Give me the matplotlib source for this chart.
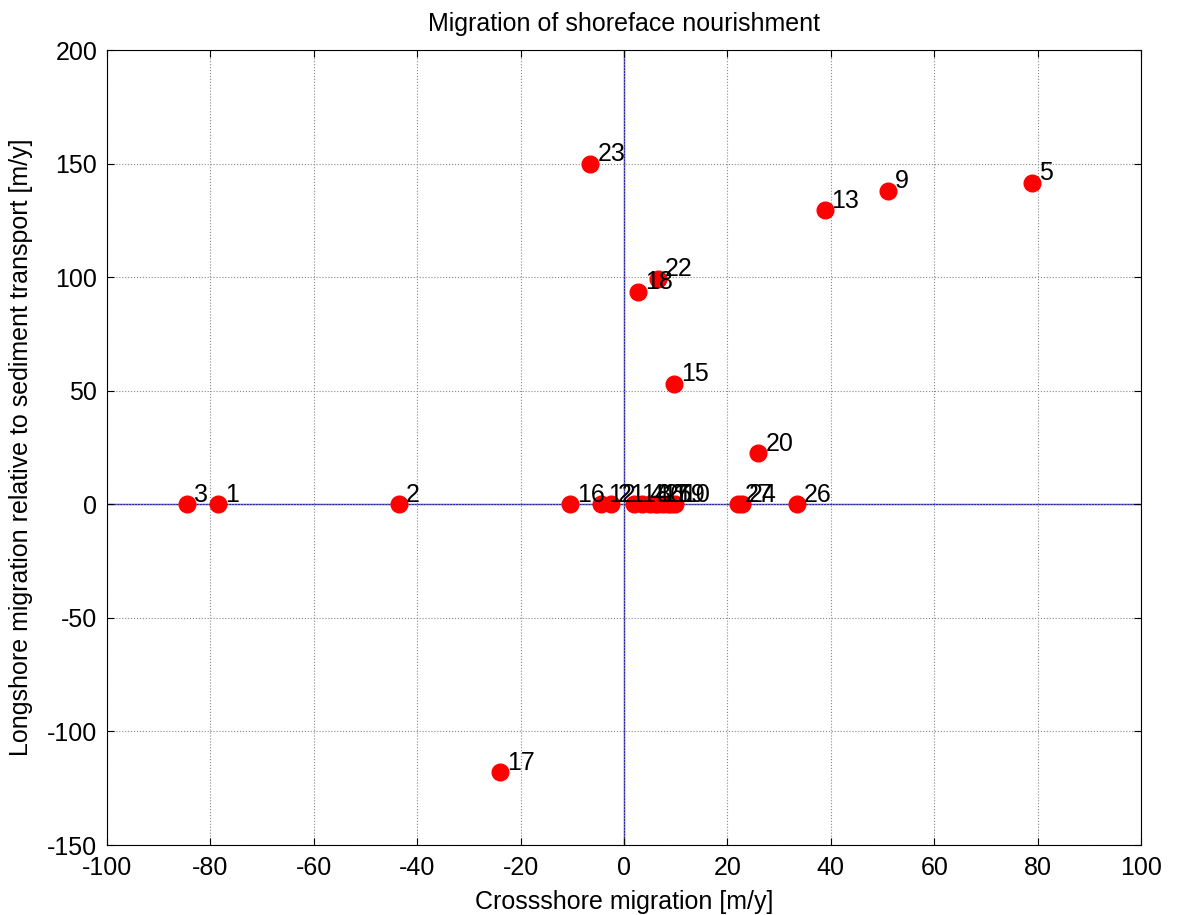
import matplotlib.pyplot as plt

plt.rcParams['font.family'] = ['Liberation Sans', 'DejaVu Sans']
plt.rcParams['axes.unicode_minus'] = False

# project number, crossshore [m/y], longshore [m/y]
ids = [1, 2, 3, 4, 5, 6, 7, 8, 9, 10, 11, 12, 13, 14,
       15, 16, 17, 18, 19, 20, 21, 22, 23, 24, 25, 26, 27]
cross = [-78.5, -43.5, -84.5, 3.5, 79.0, 7.5, 8.5, 5.0, 51.0, 9.8, 6.0, -4.5, 38.8, 2.0,
         9.7, -10.5, -24.0, 2.7, 9.0, 26.0, -2.5, 6.5, -6.5, 22.8, 6.5, 33.5, 22.0]
longs = [0, 0, 0, 0, 141.5, 0, 0, 0, 138.0, 0, 0, 0, 129.5, 0,
         53.0, 0, -118.0, 93.5, 0, 22.5, 0, 99.5, 150.0, 0, 0, 0, 0]

fs = 18

fig = plt.figure(figsize=(11.8, 9.15), dpi=100)
ax = fig.add_axes([0.0907, 0.0765, 0.8763, 0.8685])

ax.axhline(0, color='#2020c0', lw=1, zorder=1)
ax.axvline(0, color='#2020c0', lw=1, zorder=1)
ax.plot(cross, longs, 'o', color='red', markersize=12, zorder=3)
for i, x, y in zip(ids, cross, longs):
    ax.annotate(str(i), (x, y), xytext=(5, 7), textcoords='offset points',
                fontsize=fs, va='center', ha='left', zorder=4)

ax.set_xlim(-100, 100)
ax.set_ylim(-150, 200)
ax.set_xticks(range(-100, 101, 20))
ax.set_yticks(range(-150, 201, 50))
ax.grid(True, color='#888888', linestyle=':', lw=0.8)
ax.tick_params(direction='in', top=True, right=True, labelsize=fs, length=5)
ax.tick_params(axis='x', pad=8)
ax.tick_params(axis='y', pad=7)
ax.set_xlabel('Crossshore migration [m/y]', fontsize=fs, labelpad=7)
ax.set_ylabel('Longshore migration relative to sediment transport [m/y]', fontsize=fs, labelpad=10)
ax.set_title('Migration of shoreface nourishment', fontsize=fs, pad=14)

fig.savefig('out.png', dpi=100)
